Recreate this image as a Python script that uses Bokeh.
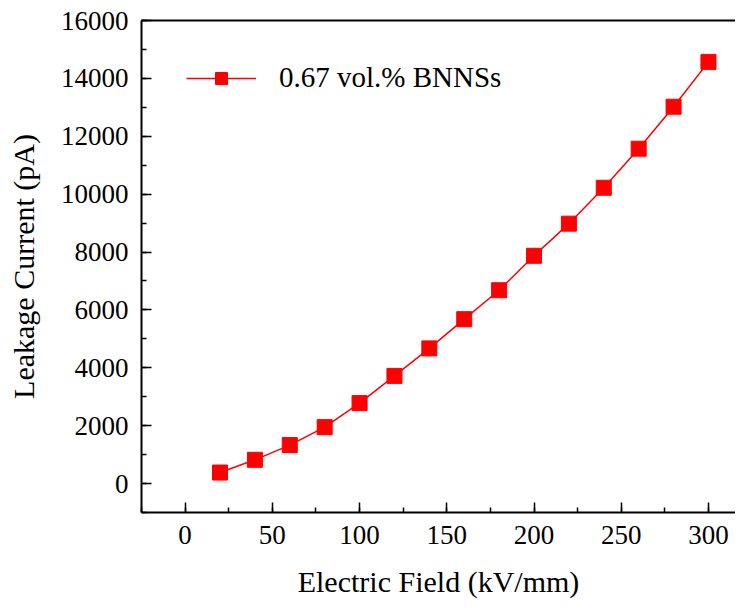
from bokeh.plotting import figure
from bokeh.models import LinearAxis, SingleIntervalTicker, FixedTicker, Range1d, Legend, LegendItem
from bokeh.embed import file_html
from bokeh.resources import INLINE

field = [20, 40, 60, 80, 100, 120, 140, 160, 180, 200, 220, 240, 260, 280, 300]
current = [380, 820, 1330, 1950, 2780, 3720, 4670, 5680, 6680, 7870, 8980, 10220, 11570, 13020, 14570]
series_name = "0.67 vol.% BNNSs"

FONT = "Liberation Serif"
RED = "#ff0000"

p = figure(width=735, height=600, output_backend="svg", toolbar_location=None,
           x_range=Range1d(-25, 315.5), y_range=Range1d(-1000, 16000),
           x_axis_location=None, y_axis_location=None,
           min_border_left=141, min_border_right=0, min_border_top=20, min_border_bottom=86)
p.outline_line_color = None
p.grid.visible = False
p.background_fill_color = "white"

xax = LinearAxis(ticker=SingleIntervalTicker(interval=50, num_minor_ticks=2),
                 axis_label="Electric Field (kV/mm)")
yax = LinearAxis(ticker=SingleIntervalTicker(interval=2000, num_minor_ticks=2),
                 axis_label="Leakage Current (pA)")
for ax in (xax, yax):
    ax.axis_line_width = 2
    ax.axis_line_color = "black"
    ax.major_tick_in = 10
    ax.major_tick_out = 0
    ax.minor_tick_in = 5
    ax.minor_tick_out = 0
    ax.major_tick_line_width = 1.5
    ax.minor_tick_line_width = 1.5
    ax.major_label_text_font = FONT
    ax.major_label_text_font_size = "27px"
    ax.major_label_text_color = "black"
    ax.major_label_standoff = 13
    ax.axis_label_text_font = FONT
    ax.axis_label_text_font_size = "30px"
    ax.axis_label_text_font_style = "normal"
    ax.axis_label_text_color = "black"
    ax.axis_label_standoff = 18
p.add_layout(xax, "below")
p.add_layout(yax, "left")

top = LinearAxis(ticker=FixedTicker(ticks=[]), major_tick_line_color=None,
                 minor_tick_line_color=None, axis_line_width=2, axis_line_color="black")
p.add_layout(top, "above")

ln = p.line(field, current, line_color=RED, line_width=1.5)
sc = p.scatter(field, current, marker="square", size=15, fill_color=RED, line_color=RED)

legend = Legend(items=[LegendItem(label=series_name, renderers=[ln, sc])],
                location=(45, 418), border_line_color=None, background_fill_alpha=0,
                margin=0, padding=0,
                label_text_font=FONT, label_text_font_size="29px", label_text_color="black",
                glyph_width=70, glyph_height=30, label_height=30, label_standoff=23)
p.add_layout(legend, "center")

open("out.html", "w").write(file_html(p, INLINE))
